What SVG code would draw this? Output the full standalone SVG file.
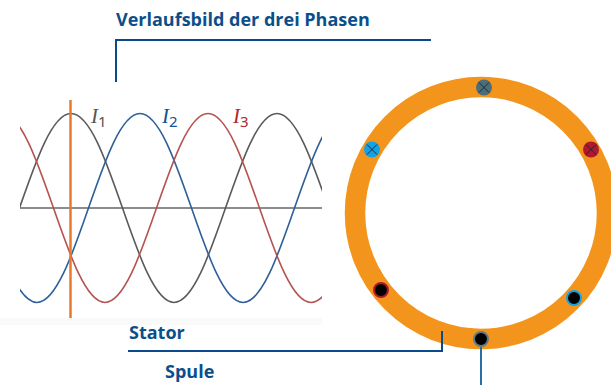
<svg xmlns="http://www.w3.org/2000/svg" width="611" height="385" viewBox="0 0 611 385">
<style>
.wave{fill:none;stroke-width:1.6}
.lead{fill:none;stroke:#0b4a8a;stroke-width:2}
.t{font-family:"Open Sans","Noto Sans",sans-serif;font-weight:700;font-size:18px;fill:#0b4f8a}
.i{font-family:"Liberation Serif",serif;font-style:italic;font-size:21px}
.s{font-family:"Noto Sans",sans-serif;font-style:normal;font-size:15px}
.m{stroke-width:2}
.x{stroke:#1b2a3a;stroke-width:1;fill:none}
</style>
<defs>
<clipPath id="c"><rect x="20" y="90" width="302" height="230"/></clipPath>
<filter id="b" x="-5%" y="-5%" width="110%" height="110%"><feGaussianBlur stdDeviation="0.35"/></filter>
</defs>
<rect width="611" height="385" fill="#fff"/>
<rect x="0" y="318" width="322" height="7" fill="#fafafa"/>
<g id="chart" filter="url(#b)">
<path d="M20 208H322" fill="none" stroke="#666" stroke-width="1.5"/>
<g clip-path="url(#c)">
<path id="wave-i1" class="wave" stroke="#5a5a5a" d="M-32 302.500C5.500 302.500 33.500 113.500 71 113.500S136.500 302.500 174 302.500S239.500 113.500 277 113.500S342.500 302.500 380 302.500"/>
<path id="wave-i2" class="wave" stroke="#2d5f99" d="M-66 113.500C-28.500 113.500 -0.500 302.500 37 302.500S102.500 113.500 140 113.500S205.500 302.500 243 302.500S308.500 113.500 346 113.500"/>
<path id="wave-i3" class="wave" stroke="#b5524f" d="M2 113.500C39.500 113.500 67.500 302.500 105 302.500S170.500 113.500 208 113.500S273.500 302.500 311 302.500S376.500 113.500 414 113.500"/>
</g>
<path d="M70.500 100V318" fill="none" stroke="#e8792c" stroke-width="2.500"/>
</g>
<g id="label-i1"><text class="i" x="91" y="123" fill="#555">I<tspan class="s" dy="4">1</tspan></text></g>
<g id="label-i2"><text class="i" x="162" y="123" fill="#15508f">I<tspan class="s" dy="4">2</tspan></text></g>
<g id="label-i3"><text class="i" x="233" y="123" fill="#b0262e">I<tspan class="s" dy="4">3</tspan></text></g>
<g id="stator" filter="url(#b)"><circle cx="481" cy="213" r="126" fill="none" stroke="#f3951b" stroke-width="20.500"/></g>
<g id="coil-top"><circle cx="484" cy="87.500" r="8" fill="#4d6d78"/><path class="x" d="M479 82.500l10 10m0-10l-10 10"/></g>
<g id="coil-left"><circle cx="372" cy="149.500" r="8" fill="#12a3e4"/><path class="x" d="M367 144.500l10 10m0-10l-10 10"/></g>
<g id="coil-right"><circle cx="591" cy="149.500" r="8" fill="#b0182e"/><path class="x" d="M586 144.500l10 10m0-10l-10 10"/></g>
<g id="coil-lower-left"><circle class="m" cx="381" cy="290" r="7" fill="#000" stroke="#b0182e"/></g>
<g id="coil-lower-right"><circle class="m" cx="574" cy="298" r="7" fill="#000" stroke="#12a3e4"/></g>
<g id="coil-bottom"><circle class="m" cx="481" cy="339" r="7" fill="#000" stroke="#5f7a84"/></g>
<g id="connectors">
<path class="lead" d="M116 82V40H431"/>
<path class="lead" d="M128 351H442V331"/>
<path d="M481 347V385" fill="none" stroke="#2a6ea8" stroke-width="2"/>
</g>
<g id="title"><text class="t" x="116" y="26">Verlaufsbild der drei Phasen</text></g>
<g id="label-stator"><text class="t" x="129" y="339">Stator</text></g>
<g id="label-spule"><text class="t" x="165" y="378">Spule</text></g>
</svg>
